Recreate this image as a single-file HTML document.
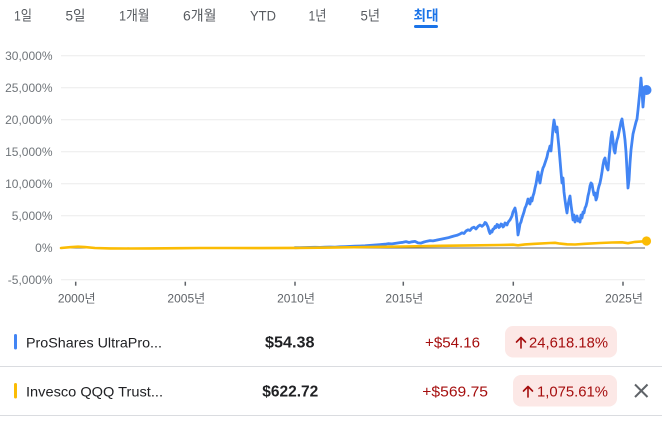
<!DOCTYPE html>
<html><head><meta charset="utf-8"><style>
html,body{margin:0;padding:0;background:#fff;}
svg{display:block;}
text{font-family:"Liberation Sans","Noto Sans CJK KR",sans-serif;}
</style></head><body>
<svg width="662" height="422" viewBox="0 0 662 422" xmlns="http://www.w3.org/2000/svg">
<rect width="662" height="422" fill="#fff"/>
<!-- tabs -->
<g font-size="14" fill="#575b60">
<text x="14" y="20.5" textLength="18" lengthAdjust="spacingAndGlyphs">1일</text>
<text x="65.5" y="20.5" textLength="20" lengthAdjust="spacingAndGlyphs">5일</text>
<text x="119" y="20.5" textLength="30.5" lengthAdjust="spacingAndGlyphs">1개월</text>
<text x="183" y="20.5" textLength="33.5" lengthAdjust="spacingAndGlyphs">6개월</text>
<text x="250" y="20.5" textLength="26" lengthAdjust="spacingAndGlyphs">YTD</text>
<text x="308.5" y="20.5" textLength="18" lengthAdjust="spacingAndGlyphs">1년</text>
<text x="360.5" y="20.5" textLength="19.5" lengthAdjust="spacingAndGlyphs">5년</text>
<text x="413.5" y="20.5" textLength="25" lengthAdjust="spacingAndGlyphs" fill="#1a73e8" font-weight="bold">최대</text>
</g>
<rect x="414" y="25" width="24" height="3" rx="1.5" fill="#1a73e8"/>
<!-- grid -->
<g stroke="#ececec" stroke-width="1">
<line x1="61" y1="55.7" x2="645" y2="55.7"/>
<line x1="61" y1="87.7" x2="645" y2="87.7"/>
<line x1="61" y1="119.7" x2="645" y2="119.7"/>
<line x1="61" y1="151.7" x2="645" y2="151.7"/>
<line x1="61" y1="183.7" x2="645" y2="183.7"/>
<line x1="61" y1="215.7" x2="645" y2="215.7"/>
<line x1="61" y1="279.7" x2="645" y2="279.7"/>
</g>
<line x1="61" y1="248" x2="645" y2="248" stroke="#5f6368" stroke-width="1"/>
<g font-size="12" fill="#70757a" text-anchor="end">
<text x="52.5" y="59.8">30,000%</text>
<text x="52.5" y="91.8">25,000%</text>
<text x="52.5" y="123.8">20,000%</text>
<text x="52.5" y="155.8">15,000%</text>
<text x="52.5" y="187.8">10,000%</text>
<text x="52.5" y="219.8">5,000%</text>
<text x="52.5" y="251.8">0%</text>
<text x="52.5" y="283.8">-5,000%</text>
</g>
<!-- ticks -->
<g stroke="#5f6368" stroke-width="1.5">
<line x1="75.7" y1="281.7" x2="75.7" y2="285.7"/>
<line x1="185.3" y1="281.7" x2="185.3" y2="285.7"/>
<line x1="295" y1="281.7" x2="295" y2="285.7"/>
<line x1="403.3" y1="281.7" x2="403.3" y2="285.7"/>
<line x1="513.3" y1="281.7" x2="513.3" y2="285.7"/>
<line x1="623" y1="281.7" x2="623" y2="285.7"/>
</g>
<g font-size="12" fill="#5f6368" text-anchor="middle">
<text x="76.7" y="302.5">2000년</text>
<text x="186.3" y="302.5">2005년</text>
<text x="296" y="302.5">2010년</text>
<text x="404.3" y="302.5">2015년</text>
<text x="514.3" y="302.5">2020년</text>
<text x="624" y="302.5">2025년</text>
</g>
<!-- blue series -->
<polyline fill="none" stroke="#4285f4" stroke-width="2.8" stroke-linejoin="round" stroke-linecap="round" points="295,247.7 300,247.6 305,247.5 310,247.4 315,247.3 320,247.4 325,247.2 330,247.0 335,247.1 340,246.8 345,246.6 350,246.4 355,246.2 360,246.0 365,245.8 370,245.4 375,245.0 380,244.6 385,244.2 388,243.7 392,243.9 396,243.2 400,242.6 403,242.3 406,241.6 409,242.5 412,241.8 415,241.4 418,242.9 421,243.1 424,242.0 427,241.2 430,240.6 433,240.9 436,240.3 439,239.6 442,239.0 445,238.4 448,237.8 451,236.9 454,236.0 457,235.3 460,234.0 462,232.8 464,233.5 466,231.0 468,229.8 470,230.5 472,228.0 474,227.2 476,229.0 478,226.5 480,225.0 482,226.3 484,224.5 485,222.5 486,223.0 487,225 488,227.0 489,231 490,233.5 491,231 492,232.0 493,229 494,229.0 495,226.5 496,227.5 497,224.5 498,225.0 499,227.5 500,226.5 501,224 502,224.5 503,227 504,226.0 505,223 506,223.5 507,225 508,222.5 509,221 510,220.0 511,218 512,216.0 513,212 514,210.0 515,208.0 516,213.0 517,222.0 518,235.0 519,230.0 520,224.0 521,222 522,218.0 523,215 524,212.0 525,208.0 526,206 527,203.0 528,199.0 529,203 530,204.0 531,198 532,201.0 533,196 534,193.0 535,188.0 536,184 537,178.0 538,172.0 539,179 540,183.0 541,177.0 542,172 543,168.0 544,166 545,163.0 546,160 547,157.0 548,152 549,150.0 550,146.0 551,151.0 552,140.0 553,128.0 554,120.0 555,126.0 556,132.0 557,127.0 558,138.0 559,148.0 560,160.0 561,172.0 562,183.0 563,178.0 564,192.0 565,200.0 566,207.0 567,213.0 568,205.0 569,200.0 570,196.0 571,205.0 572,212.0 573,220.0 574,215.0 575,222.0 576,218.0 577,216.0 578,221.0 579,219.0 580,222.0 581,215.0 582,218.0 583,212.0 584,213 585,208.0 586,206 587,202.0 588,196.0 589,192.0 590,186.0 591,183.0 592,184.0 593,190.0 594,195.0 595,193.0 596,200.0 597,197.0 598,190.0 599,186.0 600,183.0 601,178.0 602,172.0 603,165.0 604,160.0 605,158.0 606,164.0 607,168.0 608,170.0 609,158.0 610,148.0 611,138.0 612,132.0 613,140.0 614,150.0 615,153.0 616,145.0 617,140.0 618,137.0 619,132.0 620,127.0 621,122.0 622,119.0 623,126.0 624,132.0 625,140.0 626,152.0 627,170.0 628,188.0 629,180.0 630,163.0 631,150.0 632,142.0 633,134.0 634,130.0 635,126.0 636,122.0 637,119.0 638,110.0 639,100.0 640,90.0 641,78.0 642,92.0 643,107.0 644,95.0 645,90.0 646,90.0"/>
<!-- yellow series -->
<polyline fill="none" stroke="#fbbc04" stroke-width="2.6" stroke-linejoin="round" stroke-linecap="round" points="61,248 70,247.2 78,246.7 85,247.1 95,248 110,248.4 130,248.5 150,248.4 180,248.2 200,248 230,248 260,248.1 295,247.9 330,247.6 370,247 403,246.5 440,245.8 470,245.4 500,245 513,244.7 518,245.3 525,244.4 535,243.8 550,243 555,242.8 560,243.6 567,244.3 575,244.5 585,243.8 600,243 612,242.5 622,242.3 628,243.2 635,241.9 646,241.2"/>
<circle cx="646.5" cy="90" r="5" fill="#4285f4"/>
<circle cx="646.5" cy="241" r="4.6" fill="#fbbc04"/>
<!-- rows -->
<rect x="14" y="334" width="3" height="15.5" rx="1.5" fill="#4285f4"/>
<rect x="14" y="383" width="3" height="15.5" rx="1.5" fill="#fbbc04"/>
<g font-size="14" fill="#202124">
<text x="26" y="347.7" textLength="136" lengthAdjust="spacingAndGlyphs">ProShares UltraPro...</text>
<text x="26" y="396.7" textLength="137" lengthAdjust="spacingAndGlyphs">Invesco QQQ Trust...</text>
</g>
<g font-size="16" fill="#202124" font-weight="bold">
<text x="265" y="347.7" textLength="49.5" lengthAdjust="spacingAndGlyphs">$54.38</text>
<text x="262.3" y="396.7" textLength="56" lengthAdjust="spacingAndGlyphs">$622.72</text>
</g>
<g font-size="15" fill="#a50e0e">
<text x="425" y="347.5" textLength="55" lengthAdjust="spacingAndGlyphs">+$54.16</text>
<text x="422.3" y="396.5" textLength="65.7" lengthAdjust="spacingAndGlyphs">+$569.75</text>
</g>
<rect x="505" y="326" width="112" height="31.5" rx="8" fill="#fce8e6"/>
<rect x="513" y="375" width="104" height="31.5" rx="8" fill="#fce8e6"/>
<g stroke="#a50e0e" stroke-width="1.6" fill="none" stroke-linecap="round" stroke-linejoin="round">
<path d="M521 348 L521 337.5 M516.5 342 L521 337.5 L525.5 342"/>
<path d="M528 397 L528 386.5 M523.5 391 L528 386.5 L532.5 391"/>
</g>
<g font-size="15" fill="#a50e0e">
<text x="529" y="347.5" textLength="79" lengthAdjust="spacingAndGlyphs">24,618.18%</text>
<text x="537" y="396.5" textLength="71" lengthAdjust="spacingAndGlyphs">1,075.61%</text>
</g>
<g stroke="#5f6368" stroke-width="2" stroke-linecap="butt">
<line x1="635" y1="384.5" x2="647.5" y2="397"/>
<line x1="647.5" y1="384.5" x2="635" y2="397"/>
</g>
<line x1="0" y1="366.5" x2="662" y2="366.5" stroke="#dadce0" stroke-width="1"/>
<line x1="0" y1="415.5" x2="662" y2="415.5" stroke="#dadce0" stroke-width="1"/>
</svg>
</body></html>
